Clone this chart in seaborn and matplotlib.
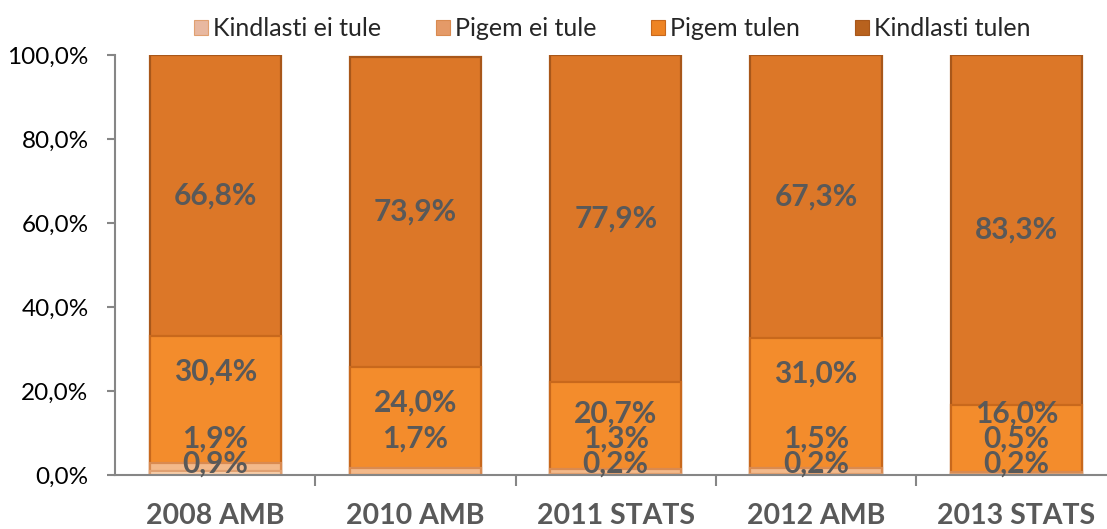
import numpy as np
import pandas as pd
import matplotlib.pyplot as plt
import seaborn as sns
from matplotlib.patches import Patch

sns.set_style('white')
plt.rcParams['font.family'] = ['Lato', 'DejaVu Sans']

surveys = ['2008 AMB', '2010 AMB', '2011 STATS', '2012 AMB', '2013 STATS']
series_names = ['Kindlasti ei tule', 'Pigem ei tule', 'Pigem tulen', 'Kindlasti tulen']

kindlasti_ei_tule = [0.9, np.nan, 0.2, 0.2, 0.2]
pigem_ei_tule = [1.9, 1.7, 1.3, 1.5, 0.5]
pigem_tulen = [30.4, 24.0, 20.7, 31.0, 16.0]
kindlasti_tulen = [66.8, 73.9, 77.9, 67.3, 83.3]

fills = ['#f8d2b0', '#f3b98a', '#f38c2c', '#dc7728']
edges = ['#e0a070', '#d98a50', '#c8681c', '#a8571a']
legend_fills = ['#e8b8a0', '#e49a68', '#ee8424', '#b8621e']

df = pd.DataFrame({'survey': surveys,
                   series_names[0]: kindlasti_ei_tule,
                   series_names[1]: pigem_ei_tule,
                   series_names[2]: pigem_tulen,
                   series_names[3]: kindlasti_tulen})

vals = df[series_names].fillna(0).to_numpy()
cum = vals.cumsum(axis=1)

fig = plt.figure(figsize=(11.07, 5.29), dpi=100, facecolor='white')
ax = fig.add_axes([115 / 1107, 54 / 529, 992 / 1107, 420 / 529])

# draw tallest cumulative first, then cover with the lower ones
for k in range(3, -1, -1):
    sns.barplot(x=df['survey'], y=cum[:, k], color=fills[k], width=0.655,
                edgecolor=edges[k], linewidth=1.6, saturation=1, ax=ax)

# data labels (small segments pushed up like excel does)
for i in range(len(surveys)):
    prev = -3.0
    for k in range(4):
        v = df[series_names[k]].iloc[i]
        bottom = cum[i, k] - vals[i, k]
        center = bottom + vals[i, k] / 2
        if k < 2:
            y = max(center, prev + 5.8)
        elif k == 2:
            y = max(cum[i, k] - 8.5, prev + 6.0)
        else:
            y = center
        prev = y
        if pd.isna(v):
            continue
        ax.text(i, y, f"{v:.1f}%".replace('.', ','), ha='center', va='center',
                fontsize=21.5, fontweight='bold', color='#595959')

ax.set_xlim(-0.5, 4.453)
ax.set_ylim(0, 100)
ax.set_yticks(np.arange(0, 101, 20))
ax.set_yticklabels([f"{t:.1f}%".replace('.', ',') for t in np.arange(0, 101, 20)])
ax.set_xlabel(None)
ax.set_ylabel(None)

for s in ['top', 'right']:
    ax.spines[s].set_visible(False)
for s in ['left', 'bottom']:
    ax.spines[s].set_color('#868686')
    ax.spines[s].set_linewidth(1.5)

ax.tick_params(axis='y', left=True, length=6, width=1.5, color='#868686',
               labelsize=17.5, pad=13, labelcolor='#000000')
ax.tick_params(axis='x', which='major', length=0, pad=20, labelsize=20.5)
ax.set_xticks(np.arange(0.5, 4, 1), minor=True)
ax.tick_params(axis='x', which='minor', bottom=True, length=8, width=1.5, color='#868686')
for lab in ax.get_xticklabels():
    lab.set_fontweight('bold')
    lab.set_color('#595959')

handles = [Patch(facecolor=legend_fills[k], edgecolor=edges[k], linewidth=0.8)
           for k in range(4)]
fig.legend(handles, series_names, loc='upper center', bbox_to_anchor=(0.553, 1.01),
           ncol=4, frameon=False, fontsize=18, handlelength=0.55, handleheight=0.55,
           handletextpad=0.2, columnspacing=2.2)

fig.savefig('out.png', dpi=100, facecolor='white')
